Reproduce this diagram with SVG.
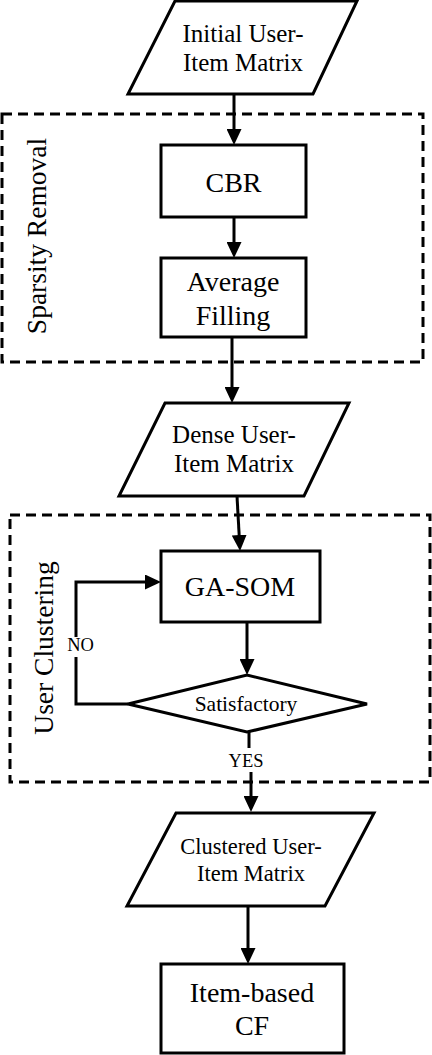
<svg xmlns="http://www.w3.org/2000/svg" width="432" height="1055" viewBox="0 0 432 1055">
<style>
.shape{fill:#fff;stroke:#000;stroke-width:3;stroke-linejoin:miter}
.group{fill:none;stroke:#000;stroke-width:3;stroke-dasharray:10 6}
.conn{fill:none;stroke:#000;stroke-width:3}
.t{font-family:"Liberation Serif",serif !important;fill:#000;text-anchor:middle}
</style>
<defs>
<marker id="ah" viewBox="0 0 16 15" refX="8" refY="7.5" markerWidth="16" markerHeight="15" markerUnits="userSpaceOnUse" orient="auto">
<path d="M0,0 L16,7.5 L0,15 z" fill="#000"/>
</marker>
</defs>
<rect width="432" height="1055" fill="#fff"/>
<g id="sparsity-removal">
<rect class="group" x="2" y="114" width="421" height="248"/>
<text class="t" style="font-family:'Liberation Serif',serif !important" transform="translate(46,236) rotate(-90)" font-size="27.5">Sparsity Removal</text>
</g>
<g id="user-clustering">
<rect class="group" x="10" y="515" width="420" height="267"/>
<text class="t" style="font-family:'Liberation Serif',serif !important" transform="translate(53,648) rotate(-90)" font-size="27.5">User Clustering</text>
</g>
<g id="connectors">
<path class="conn" d="M234,94 V137" marker-end="url(#ah)"/>
<path class="conn" d="M234,217 V250" marker-end="url(#ah)"/>
<path class="conn" d="M232,337 V395" marker-end="url(#ah)"/>
<path class="conn" d="M237,496 L239.6,543" marker-end="url(#ah)"/>
<path class="conn" d="M247,622 V667" marker-end="url(#ah)"/>
<path class="conn" d="M128,704 H76 V657 M76,637 V582 H153" marker-end="url(#ah)"/>
<text class="t" style="font-family:'Liberation Serif',serif !important" x="80.5" y="651" font-size="18.5">NO</text>
<path class="conn" d="M249,732 V748"/>
<text class="t" style="font-family:'Liberation Serif',serif !important" x="246" y="767" font-size="18.5">YES</text>
<path class="conn" d="M251,772 V804" marker-end="url(#ah)"/>
<path class="conn" d="M248,906 V956" marker-end="url(#ah)"/>
</g>
<g id="initial-matrix">
<polygon class="shape" points="175,1 357,1 313,94 128,94"/>
<text class="t" style="font-family:'Liberation Serif',serif !important" x="243" y="42" font-size="25">Initial User-</text>
<text class="t" style="font-family:'Liberation Serif',serif !important" x="243" y="71" font-size="25">Item Matrix</text>
</g>
<g id="cbr">
<rect class="shape" x="161" y="145" width="145" height="72"/>
<text class="t" style="font-family:'Liberation Serif',serif !important" x="233.5" y="192" font-size="28">CBR</text>
</g>
<g id="average-filling">
<rect class="shape" x="161" y="258" width="145" height="79"/>
<text class="t" style="font-family:'Liberation Serif',serif !important" x="233" y="291" font-size="28">Average</text>
<text class="t" style="font-family:'Liberation Serif',serif !important" x="233" y="325" font-size="28">Filling</text>
</g>
<g id="dense-matrix">
<polygon class="shape" points="165,403 349,403 304,496 119,496"/>
<text class="t" style="font-family:'Liberation Serif',serif !important" x="234" y="443" font-size="25">Dense User-</text>
<text class="t" style="font-family:'Liberation Serif',serif !important" x="234" y="472" font-size="25">Item Matrix</text>
</g>
<g id="ga-som">
<rect class="shape" x="161" y="551" width="159" height="71"/>
<text class="t" style="font-family:'Liberation Serif',serif !important" x="240" y="596" font-size="28">GA-SOM</text>
</g>
<g id="satisfactory">
<polygon class="shape" points="128,704 247,675 367,704 247,732"/>
<text class="t" style="font-family:'Liberation Serif',serif !important" x="246" y="711" font-size="21.5">Satisfactory</text>
</g>
<g id="clustered-matrix">
<polygon class="shape" points="176,813 374,813 325,906 127,906"/>
<text class="t" style="font-family:'Liberation Serif',serif !important" x="251" y="854" font-size="22.5">Clustered User-</text>
<text class="t" style="font-family:'Liberation Serif',serif !important" x="251" y="881" font-size="22.5">Item Matrix</text>
</g>
<g id="item-based-cf">
<rect class="shape" x="161" y="964" width="183" height="89"/>
<text class="t" style="font-family:'Liberation Serif',serif !important" x="252" y="1002" font-size="28">Item-based</text>
<text class="t" style="font-family:'Liberation Serif',serif !important" x="252" y="1035" font-size="28">CF</text>
</g>
</svg>
